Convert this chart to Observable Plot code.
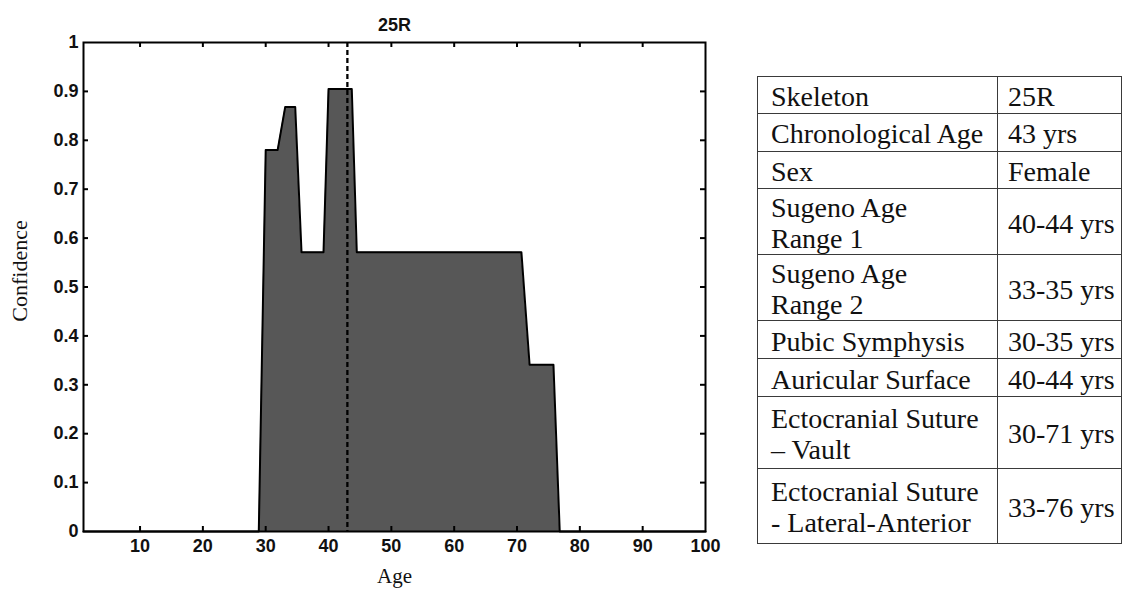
<!DOCTYPE html>
<html>
<head>
<meta charset="utf-8">
<script src="https://cdn.jsdelivr.net/npm/d3@7"></script>
<script src="https://cdn.jsdelivr.net/npm/@observablehq/plot@0.6"></script>
<style>
  html, body { margin: 0; padding: 0; background: #fff; }
  body { width: 1123px; height: 593px; position: relative; overflow: hidden; }
  #chart { position: absolute; left: 0; top: 0; }
  #tbl { position: absolute; left: 757px; top: 76px; border-collapse: collapse; table-layout: fixed; }
  #tbl td { font-family: 'Liberation Serif', serif; font-size: 28px; color: #111;
            border: 1.6px solid #3a3a3a; padding: 3px 0 0 0; vertical-align: middle; white-space: nowrap; line-height: 31px; }
  #tbl td.l { padding-left: 13px; }
  #tbl td.r { padding-left: 10px; }
</style>
</head>
<body>
<div id="chart"></div>
<table id="tbl"></table>
<script>
// ---- data ----
const chartTitle = "25R";
const ages       = [1, 28.9, 30, 31.9, 33.1, 34.7, 35.7, 39.2, 40, 43.7, 44.5, 70.7, 72, 75.8, 76.8, 100];
const confidence = [0, 0, 0.78, 0.78, 0.868, 0.868, 0.571, 0.571, 0.905, 0.905, 0.571, 0.571, 0.341, 0.341, 0, 0];
const chronologicalAge = 43;
const xTickLabels = [10, 20, 30, 40, 50, 60, 70, 80, 90, 100];
const yTickLabels = [0, 0.1, 0.2, 0.3, 0.4, 0.5, 0.6, 0.7, 0.8, 0.9, 1];
const xLabel = "Age";
const yLabel = "Confidence";
const tableLabels = [
  ["Skeleton"], ["Chronological Age"], ["Sex"], ["Sugeno Age", "Range 1"], ["Sugeno Age", "Range 2"],
  ["Pubic Symphysis"], ["Auricular Surface"], ["Ectocranial Suture", "\u2013 Vault"], ["Ectocranial Suture", "- Lateral-Anterior"]
];
const tableValues = ["25R", "43 yrs", "Female", "40-44 yrs", "33-35 yrs", "30-35 yrs", "40-44 yrs", "30-71 yrs", "33-76 yrs"];

// ---- layout ----
const rowHeights = [37.3, 37.4, 37.6, 65, 66, 38, 37.7, 71.7, 75];

const data = ages.map((a, i) => ({age: a, conf: confidence[i]}));
const xTickMarks = xTickLabels.filter(d => d < 100);
const yTickMarks = yTickLabels.filter(d => d > 0 && d < 1);
const sans = "Liberation Sans";
const serif = "Liberation Serif";

const chart = Plot.plot({
  width: 740,
  height: 593,
  marginTop: 42,
  marginBottom: 62,
  marginLeft: 83,
  marginRight: 35,
  x: {domain: [1, 100]},
  y: {domain: [0, 1]},
  style: {background: "white", color: "black"},
  marks: [
    Plot.areaY(data, {x: "age", y: "conf", fill: "#575757"}),
    Plot.lineY(data, {x: "age", y: "conf", stroke: "black", strokeWidth: 2}),
    Plot.ruleX([chronologicalAge], {stroke: "black", strokeWidth: 2.3, strokeDasharray: "5,3"}),
    Plot.tickX(xTickMarks, {x: d => d, insetTop: 484, stroke: "black", strokeWidth: 2}),
    Plot.tickX(xTickMarks, {x: d => d, insetBottom: 484, stroke: "black", strokeWidth: 2}),
    Plot.tickY(yTickMarks, {y: d => d, insetRight: 617, stroke: "black", strokeWidth: 2}),
    Plot.tickY(yTickMarks, {y: d => d, insetLeft: 617, stroke: "black", strokeWidth: 2}),
    Plot.frame({stroke: "black", strokeWidth: 2}),
    Plot.axisX(xTickLabels, {tickSize: 0, tickPadding: 8, fontSize: 18, fontWeight: "bold", fontFamily: sans, fill: "#111", label: null}),
    Plot.axisY(yTickLabels, {tickSize: 0, tickPadding: 5, fontSize: 18, fontWeight: "bold", fontFamily: sans, fill: "#111", label: null, tickFormat: d => String(d)}),
    Plot.text([chartTitle], {frameAnchor: "top", dy: -24, fontSize: 18, fontWeight: "bold", fontFamily: sans, fill: "#111"}),
    Plot.text([xLabel], {frameAnchor: "bottom", dy: 51, fontSize: 21, fontFamily: serif, fill: "#111"}),
    Plot.text([yLabel], {frameAnchor: "left", textAnchor: "middle", rotate: -90, dx: -64, dy: -16, fontSize: 22, fontFamily: serif, fill: "#111"})
  ]
});
document.getElementById("chart").appendChild(chart);

// ---- table ----
const tbl = d3.select("#tbl");
const cg = tbl.append("colgroup");
cg.append("col").style("width", "240px");
cg.append("col").style("width", "124px");
const tbody = tbl.append("tbody");
tableLabels.forEach((lines, i) => {
  const tr = tbody.append("tr").style("height", rowHeights[i] + "px");
  const l = tr.append("td").attr("class", "l");
  lines.forEach((t, j) => { if (j) l.append("br"); l.append("span").text(t); });
  tr.append("td").attr("class", "r").text(tableValues[i]);
});
</script>
</body>
</html>
